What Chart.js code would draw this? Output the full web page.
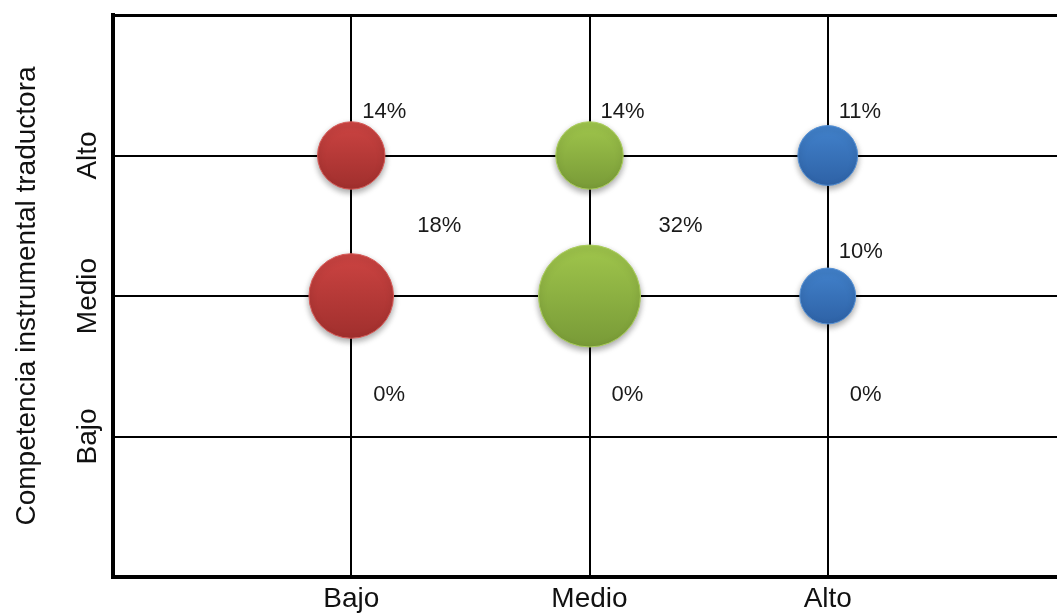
<!DOCTYPE html>
<html lang="es">
<head>
<meta charset="utf-8">
<title>Competencia instrumental traductora</title>
<script src="https://cdn.jsdelivr.net/npm/chart.js@4.4.1/dist/chart.umd.min.js"></script>
<style>
  html, body { margin: 0; padding: 0; background: #fff; overflow: hidden; }
  canvas { display: block; }
</style>
</head>
<body>
<canvas id="grafico" width="1071" height="613"></canvas>
<script>
// niveles de las dos escalas (1 = Bajo, 2 = Medio, 3 = Alto)
const nivelesX = ['Bajo', 'Medio', 'Alto'];
const nivelesY = ['Bajo', 'Medio', 'Alto'];
const tituloY = 'Competencia instrumental traductora';

// porcentajes de cada columna, por nivel en Y [Bajo, Medio, Alto]
const pctBajo  = [0, 18, 14];
const pctMedio = [0, 32, 14];
const pctAlto  = [0, 10, 11];

// tamaño de la burbuja (valor de área)
const tamBajo  = [0, 22, 14];
const tamMedio = [0, 32, 14];
const tamAlto  = [0, 9.6, 11];

const R_MAX = 51;   // radio en px de la burbuja de tamaño 32
const puntos = (xi, tam) => tam.map((t, i) => ({ x: xi, y: i + 1, r: R_MAX * Math.sqrt(t / 32) }));

const FUENTE = '"Liberation Sans", Arial, sans-serif';

function degradado(c1, c2) {
  return (ctx) => {
    const chart = ctx.chart;
    if (ctx.type !== 'data' || !chart.chartArea || !ctx.raw) return c1;
    const py = chart.scales.y.getPixelForValue(ctx.raw.y);
    const r = Math.max(ctx.raw.r, 1);
    const g = chart.ctx.createLinearGradient(0, py - r, 0, py + r);
    g.addColorStop(0, c1);
    g.addColorStop(1, c2);
    return g;
  };
}

// desplazamiento de las etiquetas respecto al centro de la burbuja
const desplaza = (ds, i) => {
  if (i === 0) return [22, -42];
  if (i === 1 && ds < 2) return [ds === 0 ? 66 : 69, -70];
  return [11, -44];
};

const sombra = {
  id: 'sombra',
  beforeDatasetDraw(chart) {
    const c = chart.ctx;
    c.save();
    c.shadowColor = 'rgba(0,0,0,0.35)';
    c.shadowBlur = 6;
    c.shadowOffsetY = 3;
  },
  afterDatasetDraw(chart) { chart.ctx.restore(); }
};

const etiquetas = {
  id: 'etiquetas',
  afterDatasetsDraw(chart) {
    const c = chart.ctx;
    c.save();
    c.font = '22px ' + FUENTE;
    c.fillStyle = '#1a1a1a';
    c.textAlign = 'left';
    c.textBaseline = 'middle';
    chart.data.datasets.forEach((ds, d) => {
      chart.getDatasetMeta(d).data.forEach((el, i) => {
        const [dx, dy] = desplaza(d, i);
        c.fillText(ds.pct[i] + '%', el.x + dx, el.y + dy);
      });
    });
    c.restore();
  }
};

const gridAncho = (ctx, extremo) => {
  const v = ctx.tick ? ctx.tick.value : null;
  if (v === 0) return 0;
  if (v === 4) return extremo;
  return 2;
};

new Chart(document.getElementById('grafico'), {
  type: 'bubble',
  data: {
    datasets: [
      { label: 'Bajo', data: puntos(1, tamBajo), pct: pctBajo,
        backgroundColor: degradado('#cc4442', '#a02f2d'), borderColor: '#d65a57', borderWidth: 1 },
      { label: 'Medio', data: puntos(2, tamMedio), pct: pctMedio,
        backgroundColor: degradado('#a0c64c', '#789a37'), borderColor: '#aacd5c', borderWidth: 1 },
      { label: 'Alto', data: puntos(3, tamAlto), pct: pctAlto,
        backgroundColor: degradado('#4282cc', '#2e62a6'), borderColor: '#5590d4', borderWidth: 1 }
    ]
  },
  options: {
    responsive: false,
    animation: false,
    devicePixelRatio: 1,
    layout: { autoPadding: false, padding: { top: 15, left: 0, right: 0, bottom: 0 } },
    plugins: { legend: { display: false }, tooltip: { enabled: false } },
    scales: {
      x: {
        type: 'linear', min: 0, max: 4,
        afterFit: (s) => { s.height = 36; },
        border: { display: true, color: '#000', width: 4 },
        grid: { color: '#000', lineWidth: (ctx) => gridAncho(ctx, 0), drawTicks: false },
        ticks: {
          stepSize: 1, padding: 5, color: '#111',
          font: { family: FUENTE, size: 28 },
          callback: (v) => (v >= 1 && v <= 3 ? nivelesX[v - 1] : '')
        }
      },
      y: {
        type: 'linear', min: 0, max: 4,
        afterFit: (s) => { s.width = 113; },
        border: { display: true, color: '#000', width: 4 },
        grid: { color: '#000', lineWidth: (ctx) => gridAncho(ctx, 3), drawTicks: false },
        title: {
          display: true, text: tituloY, color: '#111',
          font: { family: FUENTE, size: 28 },
          padding: { top: 10, bottom: 0 }
        },
        ticks: {
          stepSize: 1, padding: -13, color: '#111',
          minRotation: 90, maxRotation: 90, crossAlign: 'center',
          font: { family: FUENTE, size: 28 },
          callback: (v) => (v >= 1 && v <= 3 ? nivelesY[v - 1] : '')
        }
      }
    }
  },
  plugins: [sombra, etiquetas]
});
</script>
</body>
</html>
